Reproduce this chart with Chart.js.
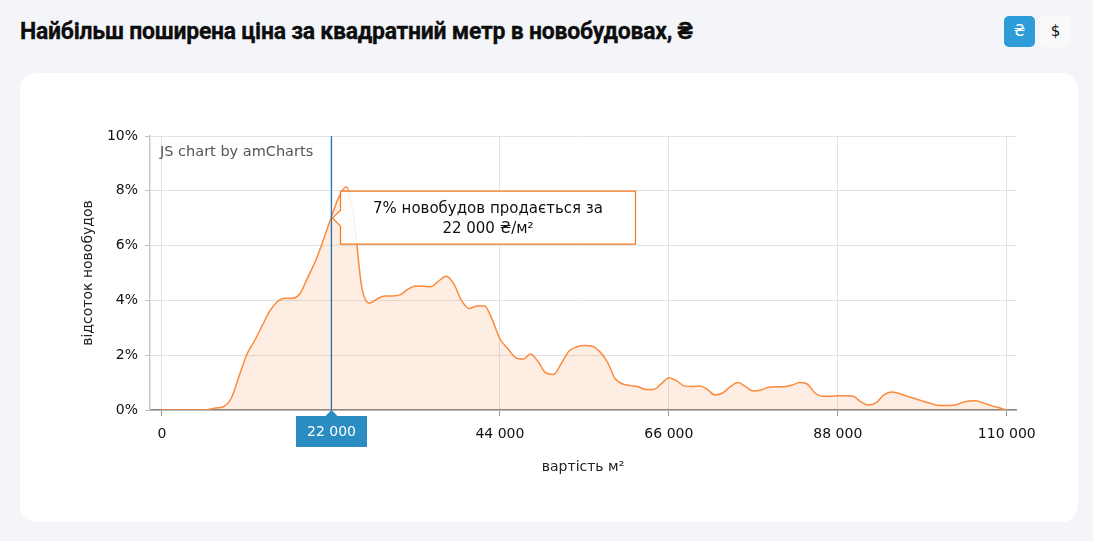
<!DOCTYPE html>
<html lang="uk">
<head>
<meta charset="utf-8">
<title>Ціна за м²</title>
<script src="https://cdn.jsdelivr.net/npm/chart.js@4.4.1/dist/chart.umd.min.js"></script>
<style>
  html, body { margin: 0; padding: 0; }
  body { width: 1093px; height: 541px; background: #f4f5f9; position: relative; overflow: hidden; font-family: Roboto, sans-serif; }
  h1 { position: absolute; left: 20px; top: 17px; margin: 0; font-size: 23px; font-weight: 700; color: #0d0d0d; line-height: 30px; letter-spacing: -0.25px; -webkit-text-stroke: 0.3px #0d0d0d; }
  .btn { position: absolute; top: 16px; width: 31px; height: 31px; border-radius: 5px; text-align: center; line-height: 31px; font-size: 15px; font-family: "DejaVu Sans", sans-serif; }
  .btn.uah { left: 1004px; background: #2e9cd8; color: #fff; }
  .btn.usd { left: 1040px; background: #f9f9fa; color: #111; }
  .card { position: absolute; left: 20px; top: 73px; width: 1058px; height: 449px; background: #fff; border-radius: 16px; }
  #chart { position: absolute; left: 0; top: 0; }
</style>
</head>
<body>
<h1>Найбільш поширена ціна за квадратний метр в новобудовах, ₴</h1>
<div class="btn uah">₴</div>
<div class="btn usd">$</div>
<div class="card">
  <canvas id="chart" width="1058" height="449"></canvas>
</div>
<script>
// ціна за м², тис. грн
const priceThousands = [
  0, 1, 2, 3, 4, 5, 6, 7, 8, 9, 10, 11, 12, 13, 14, 15, 16, 17, 18, 19,
  20, 21, 22, 23, 24, 25, 26, 27, 28, 29, 30, 31, 32, 33, 34, 35, 36, 37, 38, 39,
  40, 41, 42, 43, 44, 45, 46, 47, 48, 49, 50, 51, 52, 53, 54, 55, 56, 57, 58, 59,
  60, 61, 62, 63, 64, 65, 66, 67, 68, 69, 70, 71, 72, 73, 74, 75, 76, 77, 78, 79,
  80, 81, 82, 83, 84, 85, 86, 87, 88, 89, 90, 91, 92, 93, 94, 95, 96, 97, 98, 99,
  100, 101, 102, 103, 104, 105, 106, 107, 108, 109, 110
];

// відсоток новобудов
const sharePct = [
  0, 0, 0, 0, 0, 0, 0.02, 0.07, 0.12, 0.42, 1.2, 2.0, 2.5, 3.05, 3.6, 3.95, 4.08, 4.08, 4.26, 4.85,
  5.45, 6.2, 7.0, 7.75, 8.15, 7.0, 4.5, 3.9, 4.05, 4.16, 4.16, 4.2, 4.4, 4.53, 4.52, 4.5, 4.7, 4.88, 4.6, 4.0,
  3.7, 3.8, 3.8, 3.3, 2.6, 2.25, 1.92, 1.85, 2.04, 1.75, 1.35, 1.3, 1.7, 2.15, 2.3, 2.35, 2.33, 2.13, 1.75, 1.15,
  0.95, 0.89, 0.85, 0.75, 0.75, 0.95, 1.18, 1.07, 0.88, 0.86, 0.88, 0.75, 0.55, 0.62, 0.85, 1.0, 0.85, 0.69, 0.73, 0.83,
  0.85, 0.85, 0.9, 1.0, 0.95, 0.63, 0.5, 0.5, 0.52, 0.52, 0.5, 0.3, 0.18, 0.27, 0.55, 0.66, 0.6, 0.5, 0.42, 0.33,
  0.25, 0.17, 0.16, 0.17, 0.25, 0.33, 0.34, 0.25, 0.16, 0.08, 0
];

const xTicks = [0, 22000, 44000, 66000, 88000, 110000];
const yTicks = [0, 2, 4, 6, 8, 10];

// виділена точка
const highlightPrice = 22000;
const highlightPct = 7;

const tickFont = { family: 'DejaVu Sans', size: 14 };

function fmtPrice(v) {
  return String(v).replace(/\B(?=(\d{3})+(?!\d))/g, ' ');
}

// підписи осей, водяний знак, курсор і підказка
const extras = {
  id: 'extras',
  afterDatasetsDraw(chart) {
    const ctx = chart.ctx;
    const area = chart.chartArea;
    const xs = chart.scales.x;
    const ys = chart.scales.y;

    ctx.save();
    ctx.font = '14.5px "DejaVu Sans"';
    ctx.fillStyle = '#555';
    ctx.textAlign = 'left';
    ctx.textBaseline = 'middle';
    ctx.fillText('JS chart by amCharts', 140, 79);

    ctx.font = '14px "DejaVu Sans"';
    ctx.fillStyle = '#222';
    ctx.textAlign = 'center';
    ctx.fillText('вартість м²', (area.left + area.right) / 2, 394);
    ctx.translate(68, (area.top + area.bottom) / 2);
    ctx.rotate(-Math.PI / 2);
    ctx.fillText('відсоток новобудов', 0, 0);
    ctx.restore();

    const cx = Math.round(xs.getPixelForValue(highlightPrice)) + 0.5;
    const py = ys.getPixelForValue(highlightPct);

    // вертикальна лінія курсора
    ctx.save();
    ctx.strokeStyle = '#2276b8';
    ctx.lineWidth = 1.2;
    ctx.beginPath();
    ctx.moveTo(cx, area.top);
    ctx.lineTo(cx, area.bottom);
    ctx.stroke();

    // мітка на осі X
    const bw = 71, bh = 31, bt = area.bottom + 6;
    ctx.fillStyle = '#2a8cc0';
    ctx.beginPath();
    ctx.moveTo(cx - bw / 2, bt);
    ctx.lineTo(cx - 6, bt);
    ctx.lineTo(cx, bt - 6);
    ctx.lineTo(cx + 6, bt);
    ctx.lineTo(cx + bw / 2, bt);
    ctx.lineTo(cx + bw / 2, bt + bh);
    ctx.lineTo(cx - bw / 2, bt + bh);
    ctx.closePath();
    ctx.fill();
    ctx.fillStyle = '#fff';
    ctx.font = '14px "DejaVu Sans"';
    ctx.textAlign = 'center';
    ctx.textBaseline = 'middle';
    ctx.fillText(fmtPrice(highlightPrice), cx, bt + bh / 2 + 1);

    // підказка
    const tl = cx + 9, tt = py - 27, tw = 295, th = 53;
    ctx.beginPath();
    ctx.moveTo(tl, tt);
    ctx.lineTo(tl + tw, tt);
    ctx.lineTo(tl + tw, tt + th);
    ctx.lineTo(tl, tt + th);
    ctx.lineTo(tl, py + 8);
    ctx.lineTo(tl - 8, py);
    ctx.lineTo(tl, py - 8);
    ctx.closePath();
    ctx.fillStyle = 'rgba(255,255,255,0.88)';
    ctx.fill();
    ctx.strokeStyle = '#f47a20';
    ctx.lineWidth = 1.2;
    ctx.stroke();
    ctx.fillStyle = '#111';
    ctx.font = '15px "DejaVu Sans"';
    ctx.fillText(highlightPct + '% новобудов продається за', tl + tw / 2, tt + 18);
    ctx.fillText(fmtPrice(highlightPrice) + ' ₴/м²', tl + tw / 2, tt + 38);
    ctx.restore();
  }
};

const ctx = document.getElementById('chart').getContext('2d');
new Chart(ctx, {
  type: 'line',
  data: {
    datasets: [{
      data: priceThousands.map((p, i) => ({ x: p * 1000, y: sharePct[i] })),
      borderColor: '#fb8a3c',
      borderWidth: 1.5,
      backgroundColor: 'rgba(250,130,50,0.14)',
      fill: 'origin',
      pointRadius: 0,
      cubicInterpolationMode: 'monotone'
    }]
  },
  options: {
    responsive: false,
    animation: false,
    layout: { padding: { left: 0, right: 62, top: 63, bottom: 0 } },
    plugins: { legend: { display: false }, tooltip: { enabled: false } },
    scales: {
      x: {
        type: 'linear',
        min: -1560,
        max: 111200,
        afterBuildTicks: s => { s.ticks = xTicks.map(v => ({ value: v })); },
        afterFit: s => { s.height = 112; },
        ticks: { font: tickFont, color: '#111', padding: 10, maxRotation: 0, callback: v => fmtPrice(v) },
        grid: { color: '#e2e2e2', tickColor: '#999', tickLength: 6 },
        border: { color: '#888', width: 1.5 }
      },
      y: {
        min: 0,
        max: 10,
        afterBuildTicks: s => { s.ticks = yTicks.map(v => ({ value: v })); },
        afterFit: s => { s.width = 130; },
        ticks: { font: tickFont, color: '#111', padding: 7, callback: v => v + '%' },
        grid: { color: '#e2e2e2', tickColor: '#bbb', tickLength: 5 },
        border: { color: '#c8c8c8', width: 1.5 }
      }
    }
  },
  plugins: [extras]
});
</script>
</body>
</html>
